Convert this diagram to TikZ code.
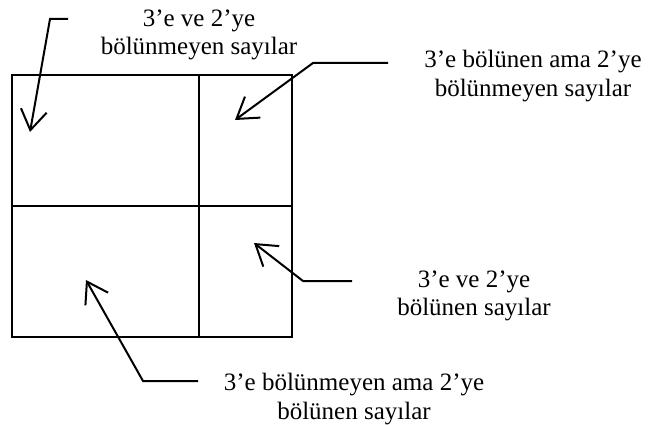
\documentclass[tikz,border=0pt]{standalone}
\usepackage{fontspec}
\setmainfont{Liberation Serif}
\usetikzlibrary{arrows.meta}
\tikzset{
  labelarrow/.style={line width=2pt, -{Straight Barb[length=20pt,width=26pt,line width=2pt]}},
  settext/.style={align=center, font=\fontsize{25}{28.5}\selectfont, inner sep=0pt},
}
\begin{document}
\begin{tikzpicture}[x=1pt, y=-1pt]
			\useasboundingbox (0,0) rectangle (650,425);
			
			\draw[line width=2pt] (12,75) rectangle (292,337);
			\draw[line width=2pt] (199,75) -- (199,337);
			\draw[line width=2pt] (12,206) -- (292,206);
			
			\node[settext] (neither) at (199,35) {3’e ve 2’ye\\bölünmeyen sayılar};
			\node[settext] (onlythree) at (533,76) {3’e bölünen ama 2’ye\\bölünmeyen sayılar};
			\node[settext] (both) at (474,296) {3’e ve 2’ye\\bölünen sayılar};
			\node[settext] (onlytwo) at (354,399) {3’e bölünmeyen ama 2’ye\\bölünen sayılar};
			
			\coordinate (neitherend) at (68,19);
			\coordinate (neitherbend) at (50,19);
			\coordinate (neithertip) at (30,132);
			\coordinate (onlythreeend) at (388,63);
			\coordinate (onlythreebend) at (313,63);
			\coordinate (onlythreetip) at (235,120);
			\coordinate (bothend) at (352,281);
			\coordinate (bothbend) at (303,281);
			\coordinate (bothtip) at (254,243);
			\coordinate (onlytwoend) at (198,381);
			\coordinate (onlytwobend) at (143,381);
			\coordinate (onlytwotip) at (86,280);
			
			\draw[labelarrow] (neitherend) -- (neitherbend) -- (neithertip);
			\draw[labelarrow] (onlythreeend) -- (onlythreebend) -- (onlythreetip);
			\draw[labelarrow] (bothend) -- (bothbend) -- (bothtip);
			\draw[labelarrow] (onlytwoend) -- (onlytwobend) -- (onlytwotip);
		\end{tikzpicture}
\end{document}
